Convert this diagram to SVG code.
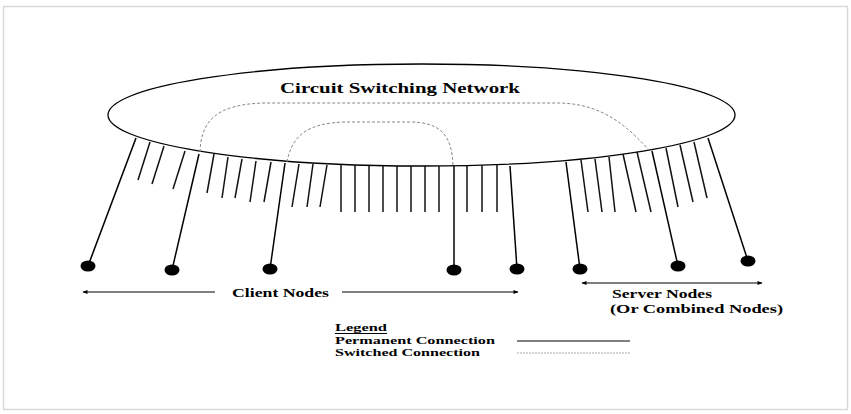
<svg xmlns="http://www.w3.org/2000/svg" width="851" height="414" viewBox="0 0 851 414">
<style>
.t{font-family:"Liberation Serif","Times New Roman",serif;font-weight:bold;fill:#000}
.perm{stroke:#000;stroke-width:1.5;fill:none}
.stub{stroke:#111;stroke-width:1.5;fill:none}
.sw{stroke:#888;stroke-width:1;stroke-dasharray:3,2;fill:none}
.dim{stroke:#000;stroke-width:1;fill:none}
.node{fill:#000}
</style>
<defs>
<marker id="ah" viewBox="0 0 10 10" refX="9" refY="5" markerWidth="6" markerHeight="5" orient="auto-start-reverse" markerUnits="userSpaceOnUse">
<path d="M0,1 L10,5 L0,9 z" fill="#000"/>
</marker>
</defs>
<rect x="3.5" y="6.5" width="844" height="403" fill="#fff" stroke="#d9d9d9" stroke-width="1.5"/>

<g id="network">
<ellipse cx="421.5" cy="115" rx="313.5" ry="51" fill="#fff" stroke="#000" stroke-width="1.3"/>
<text class="t" x="280" y="93" font-size="15" textLength="240" lengthAdjust="spacingAndGlyphs">Circuit Switching Network</text>
</g>

<g id="stubs">
<line class="stub" x1="150" y1="142" x2="138" y2="180"/>
<line class="stub" x1="164" y1="146" x2="152" y2="184"/>
<line class="stub" x1="185" y1="151" x2="173" y2="189"/>
<line class="stub" x1="214" y1="154" x2="207" y2="193"/>
<line class="stub" x1="228" y1="157" x2="222" y2="198"/>
<line class="stub" x1="242" y1="159" x2="235" y2="198"/>
<line class="stub" x1="256" y1="161" x2="250" y2="202"/>
<line class="stub" x1="271" y1="162" x2="264" y2="202"/>
<line class="stub" x1="299" y1="164" x2="292" y2="207"/>
<line class="stub" x1="313" y1="164" x2="307" y2="207"/>
<line class="stub" x1="327" y1="165" x2="320" y2="207"/>
<line class="stub" x1="341" y1="165" x2="341" y2="212"/>
<line class="stub" x1="355" y1="165" x2="355" y2="212"/>
<line class="stub" x1="369" y1="166" x2="369" y2="212"/>
<line class="stub" x1="383" y1="166" x2="383" y2="212"/>
<line class="stub" x1="397" y1="166" x2="397" y2="212"/>
<line class="stub" x1="411" y1="166" x2="411" y2="212"/>
<line class="stub" x1="425" y1="166" x2="425" y2="212"/>
<line class="stub" x1="439" y1="166" x2="439" y2="212"/>
<line class="stub" x1="467" y1="166" x2="467" y2="212"/>
<line class="stub" x1="482" y1="165" x2="482" y2="212"/>
<line class="stub" x1="497" y1="165" x2="497" y2="212"/>
<line class="stub" x1="581" y1="160" x2="588" y2="212"/>
<line class="stub" x1="595" y1="159" x2="602" y2="212"/>
<line class="stub" x1="609" y1="157" x2="615" y2="212"/>
<line class="stub" x1="623" y1="154" x2="636" y2="212"/>
<line class="stub" x1="637" y1="152" x2="651" y2="212"/>
<line class="stub" x1="666" y1="148" x2="678" y2="207"/>
<line class="stub" x1="680" y1="145" x2="693" y2="202"/>
<line class="stub" x1="694" y1="142" x2="707" y2="198"/>
</g>

<g id="connectors">
<line class="perm" x1="136" y1="138" x2="88" y2="266"/>
<line class="perm" x1="199" y1="154" x2="172" y2="270"/>
<line class="perm" x1="285" y1="163" x2="270" y2="269"/>
<line class="perm" x1="454" y1="166" x2="454" y2="270" stroke="#555"/>
<line class="perm" x1="510" y1="166" x2="517" y2="269"/>
<line class="perm" x1="566" y1="162" x2="580" y2="269"/>
<line class="perm" x1="652" y1="151" x2="678" y2="266"/>
<line class="perm" x1="708" y1="138" x2="748" y2="261"/>
<path class="sw" d="M200,152 C201,122 215,104 265,103 L560,103 C595,104 620,118 648,149"/>
<path class="sw" d="M287,162 C292,135 308,123 345,122 L410,122 C440,122 452,135 453,165"/>
</g>

<g id="node1"><ellipse class="node" cx="88" cy="266" rx="7.5" ry="5.5"/></g>
<g id="node2"><ellipse class="node" cx="172" cy="270" rx="7.5" ry="5.5"/></g>
<g id="node3"><ellipse class="node" cx="270" cy="269" rx="7.5" ry="5.5"/></g>
<g id="node4"><ellipse class="node" cx="454" cy="270" rx="7.5" ry="5.5"/></g>
<g id="node5"><ellipse class="node" cx="517" cy="269" rx="7.5" ry="5.5"/></g>
<g id="node6"><ellipse class="node" cx="580" cy="269" rx="7.5" ry="5.5"/></g>
<g id="node7"><ellipse class="node" cx="678" cy="266" rx="7.5" ry="5.5"/></g>
<g id="node8"><ellipse class="node" cx="748" cy="261" rx="7.5" ry="5.5"/></g>

<g id="client-label">
<line class="dim" x1="83" y1="292" x2="215" y2="292" marker-start="url(#ah)"/>
<line class="dim" x1="342" y1="292" x2="518" y2="292" marker-end="url(#ah)"/>
<text class="t" x="232" y="297" font-size="13" textLength="97" lengthAdjust="spacingAndGlyphs">Client Nodes</text>
</g>

<g id="server-label">
<line class="dim" x1="582" y1="283" x2="762" y2="283" marker-start="url(#ah)" marker-end="url(#ah)"/>
<text class="t" x="612" y="298" font-size="13" textLength="100" lengthAdjust="spacingAndGlyphs">Server Nodes</text>
<text class="t" x="610" y="313" font-size="13" textLength="173" lengthAdjust="spacingAndGlyphs">(Or Combined Nodes)</text>
</g>

<g id="legend">
<text class="t" x="335" y="331" font-size="11" textLength="52" lengthAdjust="spacingAndGlyphs">Legend</text>
<line x1="335" y1="333.5" x2="387" y2="333.5" stroke="#000" stroke-width="1"/>
<text class="t" x="335" y="344" font-size="11" textLength="160" lengthAdjust="spacingAndGlyphs">Permanent Connection</text>
<text class="t" x="335" y="356" font-size="11" textLength="145" lengthAdjust="spacingAndGlyphs">Switched Connection</text>
<line x1="517" y1="341" x2="630" y2="341" stroke="#000" stroke-width="1.2"/>
<line x1="517" y1="353" x2="630" y2="353" stroke="#aaa" stroke-width="1" stroke-dasharray="2,1"/>
</g>
</svg>
